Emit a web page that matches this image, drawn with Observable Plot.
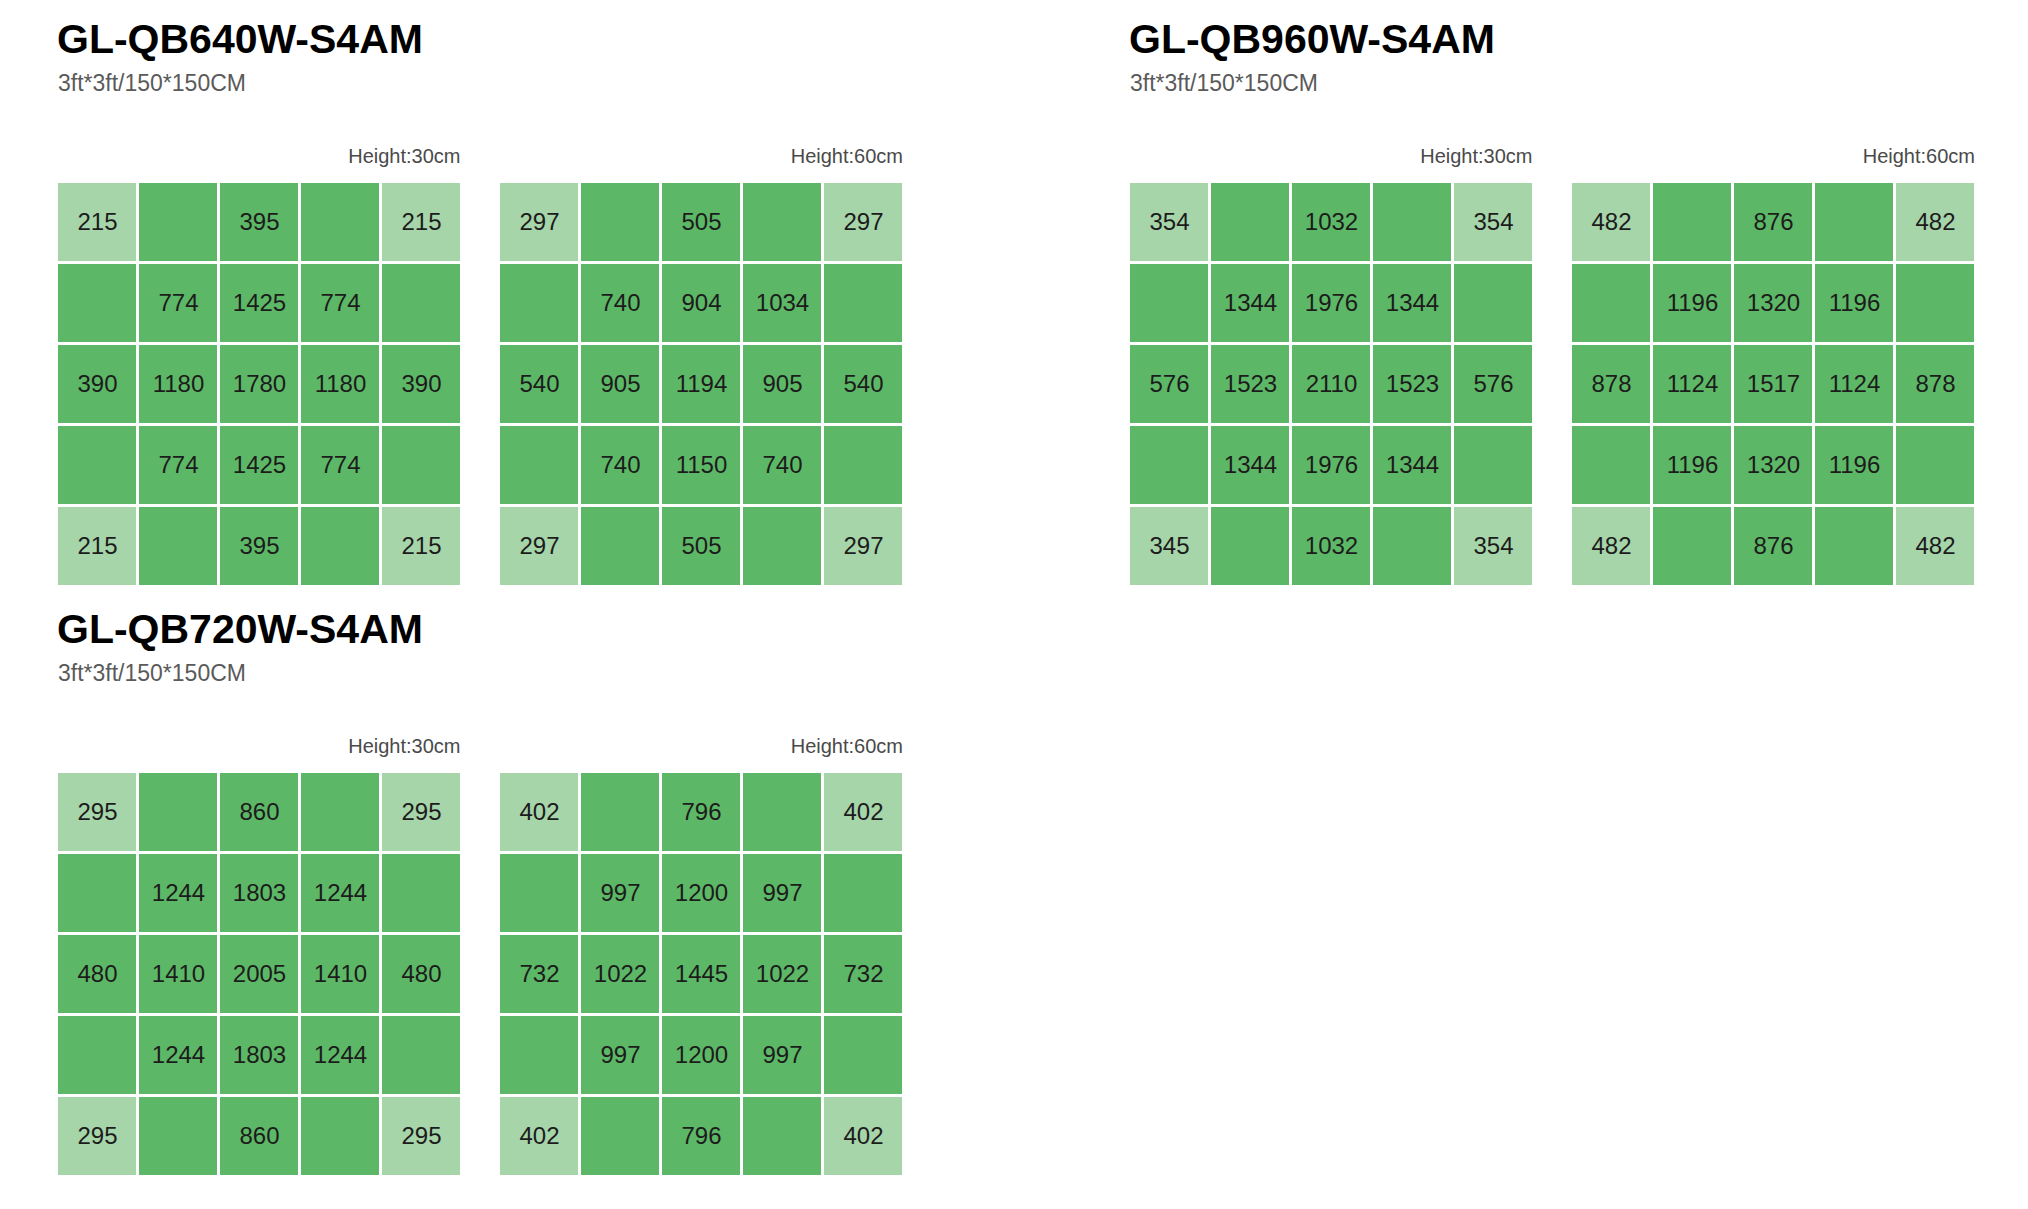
<!DOCTYPE html>
<html>
<head>
<meta charset="utf-8">
<script src="https://cdn.jsdelivr.net/npm/d3@7"></script>
<script src="https://cdn.jsdelivr.net/npm/@observablehq/plot@0.6"></script>
<style>
  html, body { margin: 0; padding: 0; background: #ffffff; }
  body { width: 2028px; height: 1209px; position: relative; overflow: hidden;
         font-family: "Liberation Sans", Arial, Helvetica, sans-serif; }
  .title { position: absolute; font-size: 41px; line-height: 41px; font-weight: bold; color: #000; white-space: nowrap; }
  .sub { position: absolute; font-size: 23px; line-height: 23px; color: #5a5a5a; white-space: nowrap; }
  .hlabel { position: absolute; font-size: 20px; line-height: 20px; color: #4a4a4a; white-space: nowrap; text-align: right; }
  .panel { position: absolute; }
</style>
</head>
<body>
<script>
// ---------- data ----------
const models = ["GL-QB640W-S4AM", "GL-QB960W-S4AM", "GL-QB720W-S4AM"];
const sizeLabel = "3ft*3ft/150*150CM";
const heightLabels = ["Height:30cm", "Height:60cm"];
const gridCols = [0, 1, 2, 3, 4];
const gridRows = [0, 1, 2, 3, 4];

const qb640_h30 = [
  [215, null, 395, null, 215],
  [null, 774, 1425, 774, null],
  [390, 1180, 1780, 1180, 390],
  [null, 774, 1425, 774, null],
  [215, null, 395, null, 215]
];
const qb640_h60 = [
  [297, null, 505, null, 297],
  [null, 740, 904, 1034, null],
  [540, 905, 1194, 905, 540],
  [null, 740, 1150, 740, null],
  [297, null, 505, null, 297]
];
const qb960_h30 = [
  [354, null, 1032, null, 354],
  [null, 1344, 1976, 1344, null],
  [576, 1523, 2110, 1523, 576],
  [null, 1344, 1976, 1344, null],
  [345, null, 1032, null, 354]
];
const qb960_h60 = [
  [482, null, 876, null, 482],
  [null, 1196, 1320, 1196, null],
  [878, 1124, 1517, 1124, 878],
  [null, 1196, 1320, 1196, null],
  [482, null, 876, null, 482]
];
const qb720_h30 = [
  [295, null, 860, null, 295],
  [null, 1244, 1803, 1244, null],
  [480, 1410, 2005, 1410, 480],
  [null, 1244, 1803, 1244, null],
  [295, null, 860, null, 295]
];
const qb720_h60 = [
  [402, null, 796, null, 402],
  [null, 997, 1200, 997, null],
  [732, 1022, 1445, 1022, 732],
  [null, 997, 1200, 997, null],
  [402, null, 796, null, 402]
];

// ---------- layout ----------
const groups = [
  { model: models[0], left: 56.5, gridTop: 182, grids: [qb640_h30, qb640_h60], gridLefts: [56.5, 499] },
  { model: models[1], left: 1128.5, gridTop: 182, grids: [qb960_h30, qb960_h60], gridLefts: [1128.5, 1571] },
  { model: models[2], left: 56.5, gridTop: 772, grids: [qb720_h30, qb720_h60], gridLefts: [56.5, 499] }
];
const GRID = 404;
const LIGHT = "#a7d5aa";
const DARK = "#5cb866";

function toRows(matrix) {
  const out = [];
  matrix.forEach((row, r) => row.forEach((v, c) => {
    const corner = (r === 0 || r === 4) && (c === 0 || c === 4);
    out.push({ r, c, v, zone: corner ? "corner" : "inner" });
  }));
  return out;
}

function gridPlot(matrix) {
  const data = toRows(matrix);
  return Plot.plot({
    width: GRID,
    height: GRID,
    margin: 0,
    style: { background: "transparent", fontFamily: "'Liberation Sans', Arial, sans-serif" },
    x: { type: "band", domain: gridCols, axis: null, paddingInner: 0.041, paddingOuter: 0 },
    y: { type: "band", domain: gridRows, axis: null, paddingInner: 0.041, paddingOuter: 0 },
    color: { domain: ["corner", "inner"], range: [LIGHT, DARK] },
    marks: [
      Plot.cell(data, { x: "c", y: "r", fill: "zone" }),
      Plot.text(data.filter(d => d.v != null), {
        x: "c", y: "r", text: d => String(d.v),
        fontSize: 24, fill: "#1c1c1c"
      })
    ]
  });
}

function addDiv(cls, text, style) {
  const d = document.createElement("div");
  d.className = cls;
  d.textContent = text;
  Object.assign(d.style, style);
  document.body.appendChild(d);
  return d;
}

for (const g of groups) {
  const off = g.gridTop - 182;
  addDiv("title", g.model, { left: (g.left + 0.5) + "px", top: (18.6 + off) + "px" });
  addDiv("sub", sizeLabel, { left: (g.left + 1.5) + "px", top: (71.5 + off) + "px" });
  g.grids.forEach((m, i) => {
    const left = g.gridLefts[i];
    addDiv("hlabel", heightLabels[i], { left: (left) + "px", width: GRID + "px", top: (146 + off) + "px" });
    const wrap = document.createElement("div");
    wrap.className = "panel";
    wrap.style.left = left + "px";
    wrap.style.top = g.gridTop + "px";
    wrap.appendChild(gridPlot(m));
    document.body.appendChild(wrap);
  });
}
</script>
</body>
</html>
